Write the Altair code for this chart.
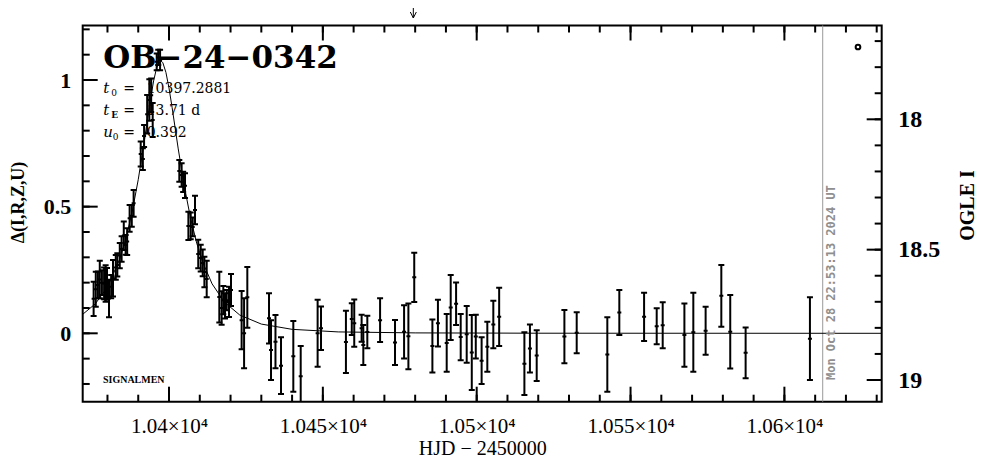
import altair as alt
import pandas as pd

# ---------------- data ----------------
hjd = [10375.5, 10376.2, 10376.9, 10377.5, 10378.2, 10378.9, 10379.4, 10379.85, 10380.5, 10381.2,
       10381.8, 10382.7, 10383.2, 10384.0, 10384.6, 10385.3, 10385.9, 10386.4, 10387.2, 10387.9,
       10388.5, 10390.8, 10391.5, 10391.9, 10392.9, 10393.6, 10394.2, 10394.7, 10396.0, 10396.5,
       10397.1,
       10403.35, 10404.1, 10404.6, 10405.2, 10406.3, 10407.05, 10407.7, 10408.45, 10409.5, 10410.3,
       10410.95, 10411.5, 10412.25, 10416.35, 10417.1, 10417.65, 10418.2, 10418.75, 10419.5, 10420.15,
       10423.6, 10424.4, 10425.45, 10432.5, 10433.15, 10434.6, 10436.4, 10440.4, 10442.8, 10448.3,
       10449.4, 10457.5, 10459.4, 10460.2, 10462.6, 10463.15, 10464.45, 10468.6, 10473.45, 10476.4,
       10477.8, 10479.7, 10485.6, 10487.4, 10490.25, 10491.55, 10493.3, 10494.8, 10496.75, 10498.4,
       10499.7, 10501.6, 10503.45, 10505.4, 10507.3, 10515.5, 10517.3, 10519.5, 10528.5, 10532.5,
       10542.45, 10546.35, 10554.4, 10558.5, 10560.45, 10567.5, 10570.4, 10574.4, 10579.5, 10582.4,
       10587.4, 10608.3]
delta = [0.136, 0.174, 0.191, 0.212, 0.200, 0.197, 0.197, 0.195, 0.137, 0.184,
         0.217, 0.260, 0.270, 0.307, 0.333, 0.385, 0.349, 0.362, 0.454, 0.464,
         0.513, 0.708, 0.688, 0.779, 0.865, 0.921, 0.940, 0.842, 1.072, 1.089,
         1.079,
         0.641, 0.625, 0.598, 0.583, 0.424, 0.424, 0.420, 0.487, 0.313, 0.297,
         0.278, 0.242, 0.214, 0.143, 0.100, 0.131, 0.108, 0.131, 0.124, 0.171,
         0.052, 0.000, 0.142, 0.059, -0.066, -0.033, -0.128, -0.091, -0.170, 0.000,
         0.020, -0.034, 0.056, 0.040, 0.020, -0.046, 0.005, 0.052, -0.036, 0.006,
         -0.012, 0.221, -0.050, 0.040, -0.038, 0.102, 0.117, -0.015, -0.004, -0.076,
         -0.013, -0.108, -0.053, 0.035, 0.065, -0.120, -0.060, -0.088, -0.013, 0.002,
         -0.084, 0.082, 0.065, 0.028, 0.032, -0.007, 0.004, 0.010, 0.148, 0.006,
         -0.077, -0.021]
err = [0.068, 0.069, 0.053, 0.074, 0.049, 0.063, 0.072, 0.063, 0.074, 0.046,
       0.072, 0.049, 0.046, 0.050, 0.050, 0.056, 0.039, 0.053, 0.053, 0.043,
       0.053, 0.049, 0.043, 0.043, 0.076, 0.082, 0.066, 0.067, 0.033, 0.030,
       0.040,
       0.043, 0.046, 0.040, 0.049, 0.056, 0.053, 0.037, 0.056, 0.056, 0.053,
       0.053, 0.060, 0.072, 0.100, 0.066, 0.056, 0.050, 0.040, 0.060, 0.063,
       0.115, 0.138, 0.120, 0.099, 0.118, 0.105, 0.112, 0.140, 0.120, 0.132,
       0.086, 0.123, 0.063, 0.093, 0.053, 0.079, 0.064, 0.086, 0.089, 0.105,
       0.130, 0.097, 0.105, 0.092, 0.114, 0.128, 0.084, 0.091, 0.112, 0.148,
       0.086, 0.092, 0.099, 0.094, 0.115, 0.124, 0.095, 0.100, 0.105, 0.081,
       0.147, 0.089, 0.095, 0.071, 0.091, 0.125, 0.156, 0.095, 0.122, 0.145,
       0.100, 0.163]

model_t = [10372, 10376, 10380, 10384, 10386, 10388, 10390, 10392, 10393, 10394, 10395, 10396,
           10397.29, 10398, 10399, 10400, 10401, 10402, 10403, 10405, 10407, 10409, 10411, 10414,
           10418, 10423, 10430, 10440, 10455, 10480, 10520, 10632]
model_d = [0.0755, 0.1157, 0.1824, 0.2932, 0.374, 0.4775, 0.6068, 0.7608, 0.8443, 0.925, 0.9964, 1.0495,
           1.0768, 1.0682, 1.030, 0.968, 0.892, 0.810, 0.728, 0.5788, 0.4548, 0.3562, 0.2793, 0.1953,
           0.1233, 0.0721, 0.0365, 0.0157, 0.0055, 0.0016, 0.0004, 0.0]

x_major = [10400, 10450, 10500, 10550, 10600]
x_minor = [10380, 10390, 10400, 10410, 10420, 10430, 10440, 10450, 10460, 10470, 10480, 10490,
           10500, 10510, 10520, 10530, 10540, 10550, 10560, 10570, 10580, 10590, 10600, 10610,
           10620, 10630]
y_major = [0, 0.5, 1]
y_minor = [-0.2, -0.1, 0.0, 0.1, 0.2, 0.3, 0.4, 0.5, 0.6, 0.7, 0.8, 0.9, 1.0, 1.1, 1.2]
mag_major = [18, 18.5, 19]
mag_minor = [17.7, 17.8, 17.9, 18.0, 18.1, 18.2, 18.3, 18.4, 18.5, 18.6, 18.7, 18.8, 18.9, 19.0]

event_name = "OB−24−0342"
t0_text = "10397.2881"
tE_text = "13.71 d"
u0_text = "0.392"
now_hjd = 10612.45
arrow_hjd = 10479.4
stamp = "Mon Oct 28 22:53:13 2024 UT"

X_DOM = [10371.95, 10631.62]
Y_DOM = [-0.270, 1.2152]
M_DOM = [17.6402, 19.0832]
W, H = 799, 376.2

# ---------------- tables ----------------
obs = pd.DataFrame({"t": hjd, "d": delta, "e": err})
obs["lo"] = obs["d"] - obs["e"]
obs["hi"] = obs["d"] + obs["e"]
model = pd.DataFrame({"t": model_t, "d": model_d})

xs = alt.Scale(domain=X_DOM, nice=False, zero=False)
ys = alt.Scale(domain=Y_DOM, nice=False, zero=False)
ms = alt.Scale(domain=M_DOM, nice=False, zero=False, reverse=True)

XN = alt.X("t:Q", scale=xs, axis=None)

base = alt.Chart(obs)
bars = base.mark_rule(color="black", strokeWidth=2, clip=True).encode(
    x=XN, y=alt.Y("lo:Q", scale=ys, axis=None), y2="hi:Q")
cap_lo = base.mark_tick(orient="horizontal", size=6, thickness=2, color="black",
                        opacity=1, clip=True).encode(x=XN, y=alt.Y("lo:Q", scale=ys, axis=None))
cap_hi = base.mark_tick(orient="horizontal", size=6, thickness=2, color="black",
                        opacity=1, clip=True).encode(x=XN, y=alt.Y("hi:Q", scale=ys, axis=None))
centers = base.mark_tick(orient="horizontal", size=4, thickness=2, color="black",
                         opacity=1, clip=True).encode(x=XN, y=alt.Y("d:Q", scale=ys, axis=None))

curve = alt.Chart(model).mark_line(color="black", strokeWidth=1, clip=True).encode(
    x=XN, y=alt.Y("d:Q", scale=ys, axis=None))

# ---------------- inward ticks drawn from the tick lists ----------------
def xticks(vals, y0, y1):
    return alt.Chart(pd.DataFrame({"t": vals})).mark_rule(color="black", strokeWidth=2).encode(
        x=XN, y=alt.value(y0), y2=alt.value(y1))


def yticks(vals, scale, x0, x1):
    return alt.Chart(pd.DataFrame({"v": vals})).mark_rule(color="black", strokeWidth=2).encode(
        y=alt.Y("v:Q", scale=scale, axis=None), x=alt.value(x0), x2=alt.value(x1))


tick_layers = [
    xticks(x_major, H, H - 15), xticks(x_minor, H, H - 7),
    xticks(x_major, 0, 15), xticks(x_minor, 0, 7),
    yticks(y_major, ys, 0, 15), yticks(y_minor, ys, 0, 7),
    yticks(mag_major, ms, W, W - 15), yticks(mag_minor, ms, W, W - 7),
]

LF = "Liberation Serif"

# ---------------- axes: labels and titles ----------------
ax_bottom = alt.Axis(orient="bottom", values=x_major, ticks=False, tickSize=0, domain=False, grid=False,
                     labelExpr="format(datum.value/10000, '.3~f') + '×10⁴'",
                     labelFont=LF, labelFontSize=21, labelColor="black", labelPadding=14,
                     title="HJD − 2450000", titleFont=LF, titleFontSize=20, titleFontWeight="normal",
                     titleColor="black", titlePadding=2)
ax_left = alt.Axis(orient="left", values=y_major, ticks=False, tickSize=0, domain=False, grid=False,
                   format=".1~f",
                   labelFont=LF, labelFontSize=22, labelFontWeight="bold", labelColor="black",
                   labelPadding=12,
                   title="Δ(I,R,Z,U)", titleFont=LF, titleFontSize=18, titleFontWeight="bold",
                   titleColor="black", titleX=-64.2, titleY=176.5, titleBaseline="middle",
                   titleAlign="center", titleAngle=270)
carrier_a = alt.Chart(model).mark_point(opacity=0).encode(
    x=alt.X("t:Q", scale=xs, axis=ax_bottom),
    y=alt.Y("d:Q", scale=ys, axis=ax_left))

magdf = pd.DataFrame({"t": [10500.0] * len(mag_major), "m": mag_major})
ax_right = alt.Axis(orient="right", values=mag_major, ticks=False, tickSize=0, domain=False, grid=False,
                    format=".1~f",
                    labelFont=LF, labelFontSize=24, labelFontWeight="bold", labelColor="black",
                    labelPadding=16,
                    title="OGLE I", titleFont=LF, titleFontSize=20, titleFontWeight="bold",
                    titleColor="black", titleAngle=270, titleX=85.5, titleY=179.5,
                    titleBaseline="middle", titleAlign="center")
carrier_c = alt.Chart(magdf).mark_point(opacity=0).encode(
    x=alt.X("t:Q", scale=xs, axis=None),
    y=alt.Y("m:Q", scale=ms, axis=ax_right))

# ---------------- annotations ----------------
one = pd.DataFrame({"s": [""]})


def txt(s, x, y, **kw):
    opts = dict(align="left", baseline="alphabetic", color="black")
    opts.update(kw)
    return alt.Chart(pd.DataFrame({"s": [s]})).mark_text(**opts).encode(
        x=alt.value(x), y=alt.value(y), text="s:N")


DS = "DejaVu Serif"
title_t = txt(event_name, 20.6, 42.8, font=DS, fontSize=31, fontWeight="bold")
params = [
    txt("t", 20.6, 67.2, font=DS, fontSize=15, fontStyle="italic"),
    txt("0", 28.5, 70.5, font=DS, fontSize=9),
    txt("=", 40.6, 67.2, font=DS, fontSize=14),
    txt(t0_text, 64.0, 67.2, font=DS, fontSize=14),
    txt("t", 20.6, 89.5, font=DS, fontSize=15, fontStyle="italic"),
    txt("E", 28.5, 92.8, font=DS, fontSize=9, fontWeight="bold"),
    txt("=", 40.6, 89.5, font=DS, fontSize=14),
    txt(tE_text, 64.0, 89.5, font=DS, fontSize=14),
    txt("u", 20.6, 111.2, font=DS, fontSize=15, fontStyle="italic"),
    txt("0", 30.0, 114.5, font=DS, fontSize=9),
    txt("=", 40.6, 111.2, font=DS, fontSize=14),
    txt(u0_text, 64.0, 111.2, font=DS, fontSize=14),
]
signal = txt("SIGNALMEN", 20.3, 357.5, font=LF, fontSize=10, fontWeight="bold")

now_line = alt.Chart(pd.DataFrame({"t": [now_hjd]})).mark_rule(color="#999999", strokeWidth=1).encode(x=XN)
stamp_t = txt(stamp, 748.3, 354.5, angle=270, baseline="middle", font="DejaVu Sans Mono",
              fontSize=12, fontWeight="bold", color="#8f8f8f")

arrow_df = pd.DataFrame({"t": [arrow_hjd]})
arrow_shaft = alt.Chart(arrow_df).mark_rule(color="black", strokeWidth=1).encode(
    x=XN, y=alt.value(-26), y2=alt.value(-7.5))
arrow_head = alt.Chart(arrow_df).mark_point(shape="M-1,-1L0,1L1,-1", filled=False, size=36,
                                            color="black", strokeWidth=1, opacity=1).encode(
    x=XN, y=alt.value(-10.5))

legend_circle = alt.Chart(one).mark_point(shape="circle", filled=False, size=22, strokeWidth=2,
                                          color="black", opacity=1).encode(
    x=alt.value(775.3), y=alt.value(21.5))

chart = alt.layer(
    carrier_a, carrier_c, *tick_layers,
    now_line, curve, bars, cap_lo, cap_hi, centers,
    title_t, *params, signal, stamp_t, arrow_shaft, arrow_head, legend_circle,
).resolve_scale(y="independent").resolve_axis(x="independent", y="independent").properties(
    width=W, height=H,
    autosize=alt.AutoSizeParams(type="none"),
    padding={"left": 74.7, "top": 17.5, "right": 96.0, "bottom": 57.3},
    background="white",
).configure_view(stroke="black", strokeWidth=2)

chart.save("out.html", embed_options={"renderer": "svg", "actions": False})
